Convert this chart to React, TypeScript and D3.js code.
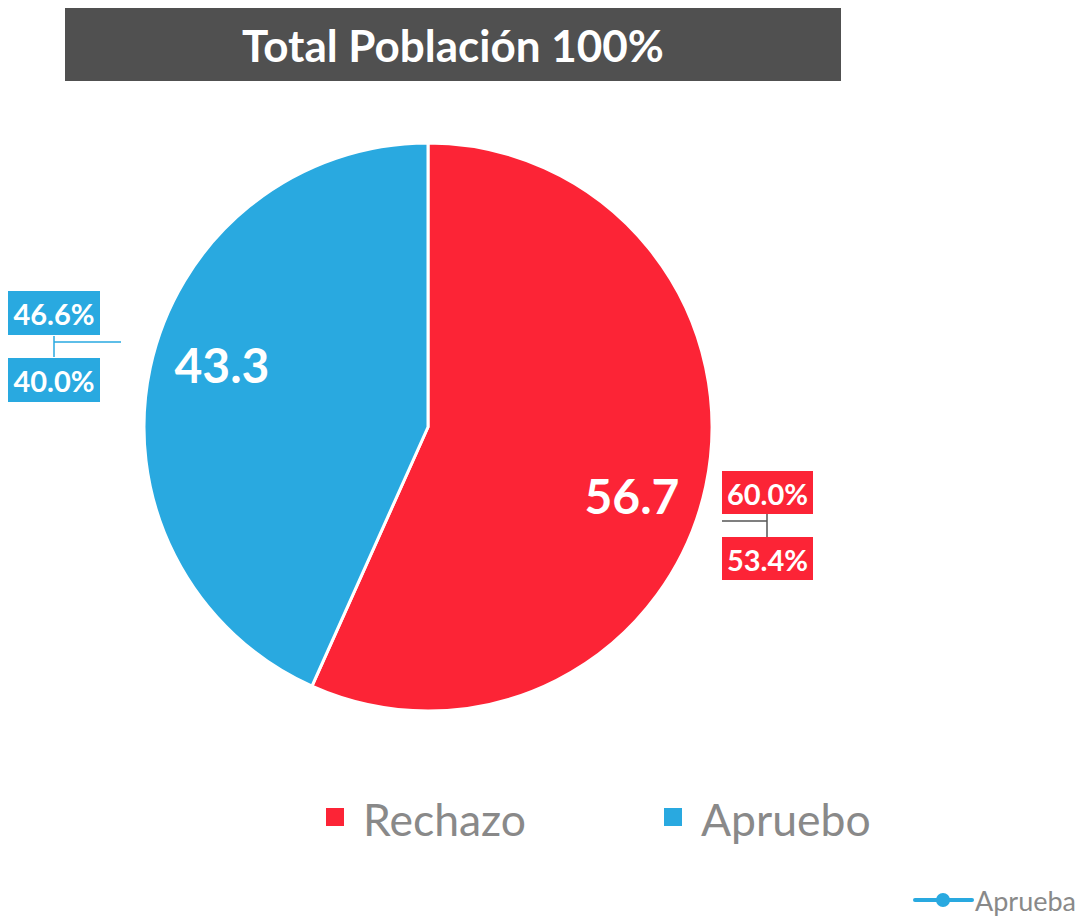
import React from "react";
import * as d3 from "d3";

const categories = ["Rechazo", "Apruebo"];
const values = [56.7, 43.3];
const colors = ["#FC2436", "#29A9E0"];
const rangeHigh = ["60.0%", "46.6%"];
const rangeLow = ["53.4%", "40.0%"];
const title = "Total Población 100%";
const footLabel = "Aprueba";

const W = 1081, H = 916;
const cx = 428, cy = 427, R = 284;
const FONT = "Lato, 'Open Sans', sans-serif";

export default function App() {
  const pie = d3.pie<number>().sort(null).value((d) => d)(values);
  const arc = d3.arc<d3.PieArcDatum<number>>().innerRadius(0).outerRadius(R);

  const inLabelPos = [
    [cx + 204, cy + 68],
    [cx - 206, cy - 63],
  ];

  const boxW = 92, boxH = 44;
  return (
    <svg width={W} height={H} style={{ position: "absolute", left: 0, top: 0, background: "#fff" }}>
      <rect x={65} y={8} width={776} height={73} fill="#505050" />
      <text x={453} y={45} textAnchor="middle" dominantBaseline="central" fill="#fff"
        fontFamily={FONT} fontWeight="bold" fontSize={44}>{title}</text>

      <g transform={`translate(${cx},${cy})`}>
        {pie.map((p, i) => (
          <path key={categories[i]} d={arc(p) || ""} fill={colors[i]} stroke="#fff" strokeWidth={3} />
        ))}
      </g>
      {pie.map((p, i) => (
        <text key={"v" + i} x={inLabelPos[i][0]} y={inLabelPos[i][1]} textAnchor="middle"
          dominantBaseline="central" fill="#fff" fontFamily={FONT} fontWeight="bold" fontSize={48}>
          {values[i].toFixed(1)}
        </text>
      ))}

      <line x1={54} y1={336} x2={54} y2={357} stroke={colors[1]} strokeWidth={1.5} />
      <line x1={54} y1={342} x2={121} y2={342} stroke={colors[1]} strokeWidth={1.5} />
      <rect x={8} y={291} width={boxW} height={boxH} fill={colors[1]} />
      <text x={54} y={313} textAnchor="middle" dominantBaseline="central" fill="#fff"
        fontFamily={FONT} fontWeight="bold" fontSize={29}>{rangeHigh[1]}</text>
      <rect x={8} y={358} width={boxW} height={boxH} fill={colors[1]} />
      <text x={54} y={380} textAnchor="middle" dominantBaseline="central" fill="#fff"
        fontFamily={FONT} fontWeight="bold" fontSize={29}>{rangeLow[1]}</text>

      <line x1={722} y1={521} x2={767} y2={521} stroke="#555" strokeWidth={1.5} />
      <line x1={767} y1={514} x2={767} y2={537} stroke="#555" strokeWidth={1.5} />
      <rect x={722} y={471} width={91} height={43} fill={colors[0]} />
      <text x={767.5} y={493} textAnchor="middle" dominantBaseline="central" fill="#fff"
        fontFamily={FONT} fontWeight="bold" fontSize={29}>{rangeHigh[0]}</text>
      <rect x={722} y={537} width={91} height={43} fill={colors[0]} />
      <text x={767.5} y={559} textAnchor="middle" dominantBaseline="central" fill="#fff"
        fontFamily={FONT} fontWeight="bold" fontSize={29}>{rangeLow[0]}</text>

      {categories.map((c, i) => {
        const x = i === 0 ? 326 : 664;
        return (
          <g key={c}>
            <rect x={x} y={808} width={18} height={18} fill={colors[i]} />
            <text x={x + 37} y={818} dominantBaseline="central" fill="#898989"
              fontFamily={FONT} fontSize={44.5}>{c}</text>
          </g>
        );
      })}

      <line x1={915} y1={900} x2={972} y2={900} stroke={colors[1]} strokeWidth={4} strokeLinecap="round" />
      <circle cx={943} cy={900} r={7} fill={colors[1]} />
      <text x={975} y={900} dominantBaseline="central" fill="#898989" fontFamily={FONT} fontSize={27}>{footLabel}</text>
    </svg>
  );
}
